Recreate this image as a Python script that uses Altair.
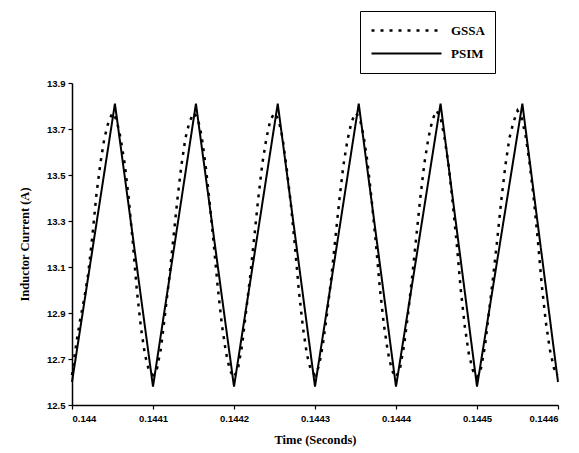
import altair as alt
import pandas as pd

# PSIM switching waveform: valley / peak corner points (seconds, amperes)
psim_t = [0.144000, 0.144053, 0.144100, 0.144153, 0.144200, 0.144254,
          0.144300, 0.144354, 0.144400, 0.144455, 0.144500, 0.144556, 0.144600]
psim_i = [12.60, 13.81, 12.58, 13.81, 12.58, 13.81,
          12.58, 13.81, 12.58, 13.81, 12.58, 13.81, 12.60]

# GSSA model output, sampled every 5 microseconds from 0.144 s
gssa_step = 5e-6
gssa_i = [
    12.63, 12.76, 12.87, 12.96, 13.07, 13.23, 13.41, 13.55, 13.66, 13.73,
    13.77, 13.74, 13.66, 13.55, 13.40, 13.21, 13.00, 12.84, 12.72, 12.65,
    12.63, 12.66, 12.75, 12.90, 13.05, 13.22, 13.39, 13.54, 13.66, 13.73,
    13.77, 13.75, 13.67, 13.54, 13.38, 13.20, 13.01, 12.85, 12.73, 12.65,
    12.62, 12.66, 12.76, 12.91, 13.06, 13.23, 13.40, 13.55, 13.66, 13.74,
    13.77, 13.74, 13.66, 13.53, 13.38, 13.20, 13.00, 12.84, 12.72, 12.65,
    12.63, 12.67, 12.77, 12.90, 13.05, 13.22, 13.39, 13.54, 13.65, 13.73,
    13.77, 13.75, 13.67, 13.55, 13.39, 13.21, 13.01, 12.85, 12.73, 12.65,
    12.62, 12.66, 12.76, 12.90, 13.06, 13.23, 13.40, 13.55, 13.66, 13.74,
    13.78, 13.75, 13.66, 13.54, 13.38, 13.20, 13.00, 12.84, 12.72, 12.65,
    12.62, 12.66, 12.76, 12.91, 13.06, 13.22, 13.39, 13.54, 13.66, 13.73,
    13.78, 13.75, 13.67, 13.55, 13.40, 13.22, 13.02, 12.86, 12.74, 12.66,
    12.63,
]
gssa_t = [0.144 + k * gssa_step for k in range(len(gssa_i))]

series_names = ["GSSA", "PSIM"]
x_ticks = [0.1440, 0.1441, 0.1442, 0.1443, 0.1444, 0.1445, 0.1446]
y_ticks = [12.5, 12.7, 12.9, 13.1, 13.3, 13.5, 13.7, 13.9]

df = pd.concat([
    pd.DataFrame({"t": gssa_t, "i": gssa_i, "series": "GSSA", "order": range(len(gssa_t))}),
    pd.DataFrame({"t": psim_t, "i": psim_i, "series": "PSIM", "order": range(len(psim_t))}),
])

label_font = "Liberation Sans"
title_font = "Liberation Serif"

# trailing no-break spaces widen the boxed legend to the right
legend_label = "datum.label + '\u00a0\u00a0\u00a0\u00a0\u00a0\u00a0\u00a0\u00a0\u00a0\u00a0\u00a0\u00a0'"

chart = (
    alt.Chart(df)
    .mark_line(color="black", strokeCap="butt")
    .encode(
        x=alt.X(
            "t:Q",
            scale=alt.Scale(domain=[0.144, 0.1446], nice=False, zero=False),
            axis=alt.Axis(
                title="Time (Seconds)",
                values=x_ticks,
                format=".4~f",
                grid=False,
                tickSize=4,
                labelPadding=4,
                titlePadding=11,
            ),
        ),
        y=alt.Y(
            "i:Q",
            scale=alt.Scale(domain=[12.5, 13.9], nice=False, zero=False),
            axis=alt.Axis(
                title="Inductor Current (A)",
                values=y_ticks,
                format=".1f",
                grid=False,
                tickSize=4,
                labelPadding=3,
                titlePadding=15,
            ),
        ),
        strokeDash=alt.StrokeDash(
            "series:N",
            scale=alt.Scale(domain=series_names, range=[[3, 6], [1, 0]]),
            legend=alt.Legend(
                title=None,
                orient="none",
                legendX=288,
                legendY=-72,
                symbolType="stroke",
                symbolSize=4900,
                symbolStrokeWidth=2.2,
                symbolStrokeColor="black",
                clipHeight=19,
                rowPadding=4,
                padding=10,
                labelExpr=legend_label,
                labelFont=title_font,
                labelFontWeight="bold",
                labelFontSize=13,
                labelColor="black",
                labelOffset=8,
                strokeColor="black",
                fillColor="white",
            ),
        ),
        strokeWidth=alt.StrokeWidth(
            "series:N",
            scale=alt.Scale(domain=series_names, range=[2.5, 2.0]),
            legend=None,
        ),
        detail="series:N",
        order="order:Q",
    )
    .properties(
        width=486,
        height=322,
        autosize=alt.AutoSizeParams(type="none"),
        padding={"left": 72, "top": 83, "right": 21, "bottom": 48},
        background="white",
    )
    .configure_view(stroke=None)
    .configure_axis(
        domainColor="black",
        domainWidth=1.5,
        tickColor="black",
        tickWidth=1.2,
        labelFont=label_font,
        labelFontSize=9.5,
        labelFontWeight="bold",
        labelColor="black",
        titleFont=title_font,
        titleFontWeight="bold",
        titleFontSize=12.5,
        titleColor="black",
    )
)

chart.save("out.html", embed_options={"renderer": "svg", "actions": False})
